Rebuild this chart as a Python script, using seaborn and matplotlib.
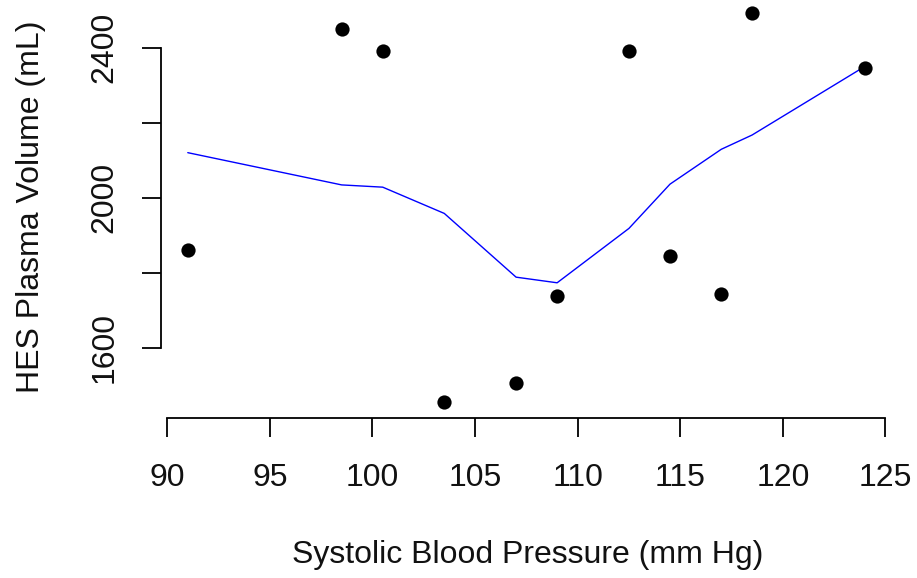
import matplotlib
matplotlib.use("Agg")
import matplotlib.pyplot as plt
import seaborn as sns
import pandas as pd

# Data
sbp = [91, 98.5, 100.5, 103.5, 107, 109, 112.5, 114.5, 117, 118.5, 124]
hes_volume = [1860, 2450, 2390, 1455, 1505, 1737, 2390, 1845, 1742, 2492, 2345]

# Smoothed (lowess) curve
smooth_x = [91, 98.5, 100.5, 103.5, 107, 109, 112.5, 114.5, 117, 118.5, 124]
smooth_y = [2120, 2034, 2028, 1958, 1788, 1773, 1918, 2036, 2129, 2167, 2350]

x_ticks = [90, 95, 100, 105, 110, 115, 120, 125]
y_ticks = [1600, 1800, 2000, 2200, 2400]
y_tick_labels = ["1600", "", "2000", "", "2400"]

sns.set_theme(style="white")
plt.rcParams["font.family"] = ["Liberation Sans", "DejaVu Sans"]

W, H = 917, 578
fig = plt.figure(figsize=(W / 100, H / 100), dpi=100)

# pixel geometry
left_px, right_px = 160.7, 892.0
bottom_px, top_px = 417.6, -2.4
ax = fig.add_axes([left_px / W, (H - bottom_px) / H,
                   (right_px - left_px) / W, (bottom_px - top_px) / H])

df = pd.DataFrame({"sbp": sbp, "vol": hes_volume})
sm = pd.DataFrame({"x": smooth_x, "y": smooth_y})

sns.lineplot(data=sm, x="x", y="y", ax=ax, color="#0000FF", lw=1.0,
             estimator=None, sort=False, zorder=2)
sns.scatterplot(data=df, x="sbp", y="vol", ax=ax, color="black", s=105,
                edgecolor="black", linewidth=0, zorder=3)

ax.set_xlim(89.68, 125.32)
ax.set_ylim(1413.5, 2533.5)

for s in ["top", "right"]:
    ax.spines[s].set_visible(False)
ax.spines["left"].set_bounds(1600, 2400)
ax.spines["bottom"].set_bounds(90, 125)
for s in ["left", "bottom"]:
    ax.spines[s].set_color("black")
    ax.spines[s].set_linewidth(1.3)

ax.set_xticks(x_ticks)
ax.set_xticklabels([str(t) for t in x_ticks])
ax.set_yticks(y_ticks)
ax.set_yticklabels(y_tick_labels, rotation=90, va="center")
ax.tick_params(axis="both", direction="out", length=13.7, width=1.3,
               color="black", labelsize=23, labelcolor="#111111",
               bottom=True, left=True)
ax.tick_params(axis="x", pad=19)
ax.tick_params(axis="y", pad=16)

ax.set_xlabel("")
ax.set_ylabel("")
fig.text(528 / W, 1 - 555 / H, "Systolic Blood Pressure (mm Hg)",
         ha="center", va="center", fontsize=23, color="#111111")
fig.text(31 / W, 1 - 207 / H, "HES Plasma Volume (mL)", rotation=90,
         ha="center", va="center", fontsize=23, color="#111111")

ax.grid(False)
ax.set_facecolor("white")
fig.patch.set_facecolor("white")
fig.savefig("out.png", dpi=100, facecolor="white")
